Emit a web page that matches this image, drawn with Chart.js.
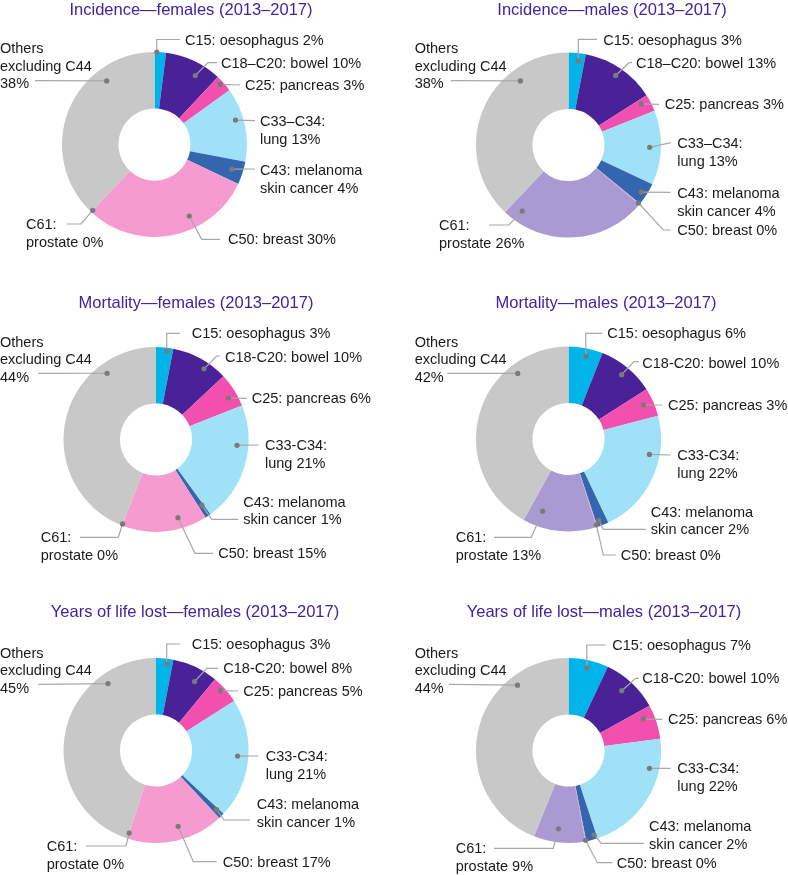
<!DOCTYPE html>
<html>
<head>
    <title>Cancer burden donuts</title>
    <script src="https://cdn.jsdelivr.net/npm/chart.js"></script>
    <style>
        body { margin: 0; background: #fff; }
        .wrap { position: relative; width: 788px; height: 875px; }
        .wrap canvas { position: absolute; left: 0; top: 0; }
    </style>
</head>
<body>
<div class="wrap">
    <canvas id="c0" width="788" height="875"></canvas>
    <canvas id="c1" width="788" height="875"></canvas>
    <canvas id="c2" width="788" height="875"></canvas>
    <canvas id="c3" width="788" height="875"></canvas>
    <canvas id="c4" width="788" height="875"></canvas>
    <canvas id="c5" width="788" height="875"></canvas>
</div>
<script>
// categories, clockwise from 12 o'clock
const categories = ['C15: oesophagus', 'C18-C20: bowel', 'C25: pancreas', 'C33-C34: lung',
    'C43: melanoma skin cancer', 'C50: breast', 'C61: prostate', 'Others excluding C44'];
const colours = ['#00b4ea', '#4a2298', '#f24fae', '#9fe1f7', '#3466b0', '#f59bcf', '#a99ad3', '#c8c8c8'];

// slice sizes (%) as drawn
const incFemales  = [2, 10, 3, 13, 4, 30, 0, 38];
const incMales    = [3, 13, 3, 13, 4, 0.15, 26, 38];
const mortFemales = [3, 10, 6, 21, 1, 15, 0, 44];
const mortMales   = [6, 10, 5, 22, 2, 0.15, 13, 42];
const yllFemales  = [3, 8, 5, 21, 1, 17, 0, 45];
const yllMales    = [7, 10, 6, 22, 2, 0.15, 9, 44];

// percentages as printed on the labels
const incFemalesPct  = [2, 10, 3, 13, 4, 30, 0, 38];
const incMalesPct    = [3, 13, 3, 13, 4, 0, 26, 38];
const mortFemalesPct = [3, 10, 6, 21, 1, 15, 0, 44];
const mortMalesPct   = [6, 10, 3, 22, 2, 0, 13, 42];
const yllFemalesPct  = [3, 8, 5, 21, 1, 17, 0, 45];
const yllMalesPct    = [7, 10, 6, 22, 2, 0, 9, 44];

const titles = [
    'Incidence\u2014females (2013\u20132017)', 'Incidence\u2014males (2013\u20132017)',
    'Mortality\u2014females (2013\u20132017)', 'Mortality\u2014males (2013\u20132017)',
    'Years of life lost\u2014females (2013\u20132017)', 'Years of life lost\u2014males (2013\u20132017)'
];

function labelLines(i, p, dash) {
    switch (i) {
        case 0: return ['C15: oesophagus ' + p + '%'];
        case 1: return ['C18' + dash + 'C20: bowel ' + p + '%'];
        case 2: return ['C25: pancreas ' + p + '%'];
        case 3: return ['C33' + dash + 'C34:', 'lung ' + p + '%'];
        case 4: return ['C43: melanoma', 'skin cancer ' + p + '%'];
        case 5: return ['C50: breast ' + p + '%'];
        case 6: return ['C61:', 'prostate ' + p + '%'];
        default: return ['Others', 'excluding C44', p + '%'];
    }
}

// layout (page px) -------------------------------------------------------
const W = 788, H = 875, R = 92.5;
const centres = [[154.5, 144.5], [568.5, 145], [156, 439.5], [568.5, 439], [156, 750.5], [568.5, 750.5]];
const titlePos = [[191, 9.5], [612, 9.5], [196, 302], [606, 302], [195, 611], [604, 611]];
// per label: [frac along arc, frac across ring, line y, elbow x, line end x, text x, text y]
const leaders = [
    [[0.2, 1.0, 39.5, 156.7, 180, 185, 40], [0.65, 0.78, 62.7, 208, 217, 221, 62.7],
     [0.4, 0.94, 85, null, 240, 245, 85], [0.41, 0.86, 120.7, null, 255, 260, 121],
     [0.48, 0.8, 169, null, 255, 260, 170], [0.36, 0.77, 239.3, 201.7, 220, 228, 239.3],
     [0.5, 0.96, 224, 81, 66.7, 26, 224], [0.73, 0.77, 80.7, null, 35, 0, 48]],
    [[0.62, 0.86, 39.3, 578.3, 597, 603.3, 40], [0.5, 0.85, 62.7, 629, 632, 636, 63],
     [0.28, 0.84, 104.3, null, 659, 664.7, 104], [0.5, 0.8, 142.7, null, 670.7, 677.3, 143],
     [0.55, 0.9, 192.3, null, 670.7, 677.3, 193], [0.5, 0.97, 230, 663.3, 670.7, 677.3, 230],
     [0.91, 0.79, 225, 509, 489, 439, 225], [0.73, 0.78, 80.7, null, 450.7, 414.7, 48]],
    [[0.64, 0.94, 333.3, 166.7, 180, 191.7, 333.3], [0.65, 0.875, 356, 216.7, 220, 225, 356.7],
     [0.62, 0.84, 398.3, null, 246.7, 251.7, 398.3], [0.34, 0.8, 445, null, 258.3, 265, 445],
     [0.3, 0.78, 519.3, 211.7, 238.3, 243.3, 501.7], [0.31, 0.8, 553.3, 195, 213.3, 218.3, 553.3],
     [0.5, 0.97, 537.3, 118.3, 80, 40.7, 537.3], [0.77, 0.82, 373.3, null, 38.3, 0, 341.7]],
    [[0.55, 0.86, 333.3, 585.7, 602.3, 607.3, 333.3], [0.5, 0.84, 361.7, 634, 639, 642.3, 362.7],
     [0.45, 0.82, 405, null, 662.3, 668, 405], [0.32, 0.82, 455, null, 670.7, 677.3, 455],
     [0.7, 0.9, 529.3, 603.3, 645.7, 650.7, 511.7], [0.5, 0.96, 555, 603.3, 615.7, 620.7, 555],
     [0.8, 0.72, 537.3, 531.3, 494, 455.7, 537.3], [0.75, 0.83, 373.3, null, 447.3, 414.7, 341.7]],
    [[0.65, 0.91, 644, 166.7, 180, 191.7, 644], [0.64, 0.76, 668.3, 206.7, 218.3, 223.3, 668.3],
     [0.42, 0.92, 691, null, 238.3, 243.3, 691], [0.48, 0.81, 756, null, 258.3, 265.7, 756],
     [0.3, 0.86, 820, 224, 250, 256.7, 804], [0.44, 0.76, 861.7, 193.3, 216.7, 222.7, 861.7],
     [0.5, 0.9, 846, 126, 86, 46.7, 846], [0.78, 0.82, 684.3, null, 38.3, 0, 652.7]],
    [[0.5, 0.86, 645, 586.7, 605.7, 612.3, 645], [0.46, 0.78, 678.3, 635.7, 639, 642.3, 678.3],
     [0.28, 0.8, 719.3, null, 662.3, 668, 719.3], [0.25, 0.83, 768.3, null, 670.7, 677.3, 768.3],
     [0.2, 0.92, 843.3, 601.3, 644, 649, 826], [0.5, 0.98, 862.7, 597.3, 612.3, 616.7, 862.7],
     [0.55, 0.76, 848.3, 553.3, 494, 455.7, 848.3], [0.76, 0.83, 684.3, null, 449, 414.7, 652.7]]
];

const FONT = '"Liberation Sans", Arial, Helvetica, sans-serif';
const LINE_H = 17.5;

// leader lines, dots, label text and the panel title
const leaderPlugin = {
    id: 'leaders',
    afterDraw(chart, args, opts) {
        const ctx = chart.ctx;
        const arcs = chart.getDatasetMeta(0).data;
        ctx.save();
        arcs.forEach((arc, i) => {
            const L = opts.layout[i];
            const p = arc.getProps(['x', 'y', 'startAngle', 'endAngle', 'innerRadius', 'outerRadius'], true);
            const a = p.startAngle + L[0] * (p.endAngle - p.startAngle);
            const r = p.innerRadius + L[1] * (p.outerRadius - p.innerRadius);
            const dx = p.x + r * Math.cos(a), dy = p.y + r * Math.sin(a);

            ctx.strokeStyle = '#a8a8a8';
            ctx.lineWidth = 1.2;
            ctx.beginPath();
            ctx.moveTo(dx, dy);
            if (L[3] !== null) ctx.lineTo(L[3], L[2]);
            ctx.lineTo(L[4], L[2]);
            ctx.stroke();

            ctx.fillStyle = '#7a7a7a';
            ctx.beginPath();
            ctx.arc(dx, dy, 2.6, 0, Math.PI * 2);
            ctx.fill();

            ctx.fillStyle = '#1a1a1a';
            ctx.font = '14.5px ' + FONT;
            ctx.textAlign = 'left';
            ctx.textBaseline = 'alphabetic';
            labelLines(i, opts.pct[i], opts.dash).forEach((t, k) => {
                ctx.fillText(t, L[5], L[6] + 5 + k * LINE_H);
            });
        });
        ctx.fillStyle = '#4122a0';
        ctx.font = '16.5px ' + FONT;
        ctx.textAlign = 'center';
        ctx.fillText(opts.title, opts.titleAt[0], opts.titleAt[1] + 5.5);
        ctx.restore();
    }
};

const panels = [
    [incFemales, incFemalesPct, '\u2013'], [incMales, incMalesPct, '\u2013'],
    [mortFemales, mortFemalesPct, '-'], [mortMales, mortMalesPct, '-'],
    [yllFemales, yllFemalesPct, '-'], [yllMales, yllMalesPct, '-']
];

panels.forEach((pn, n) => {
    const [cx, cy] = centres[n];
    new Chart(document.getElementById('c' + n), {
        type: 'doughnut',
        data: {
            labels: categories,
            datasets: [{ data: pn[0], backgroundColor: colours, borderWidth: 0 }]
        },
        options: {
            responsive: false,
            animation: false,
            cutout: '39%',
            events: [],
            layout: { padding: { left: cx - R, right: W - cx - R, top: cy - R, bottom: H - cy - R } },
            plugins: {
                legend: { display: false },
                tooltip: { enabled: false },
                leaders: { layout: leaders[n], pct: pn[1], dash: pn[2], title: titles[n], titleAt: titlePos[n] }
            }
        },
        plugins: [leaderPlugin]
    });
});
</script>
</body>
</html>
